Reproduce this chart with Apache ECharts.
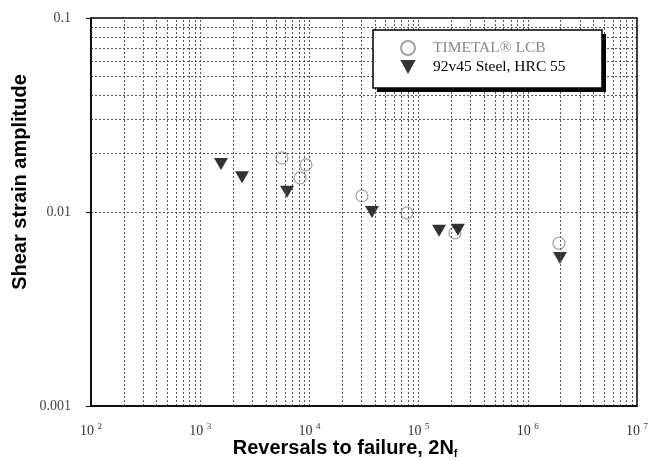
<!DOCTYPE html>
<html>
<head>
<meta charset="utf-8">
<script src="https://cdn.jsdelivr.net/npm/echarts@6/dist/echarts.min.js"></script>
<style>
  html, body { margin: 0; padding: 0; background: #fff; }
  #main { width: 650px; height: 461px; }
</style>
</head>
<body>
<div id="main"></div>
<script>
// reversals to failure (2Nf) and shear strain amplitude
var timetalX = [5610, 9310, 8200, 30300, 78300, 215000, 1930000];
var timetalY = [0.0190, 0.0175, 0.0150, 0.0121, 0.0099, 0.0078, 0.0069];
var steelX = [1550, 2415, 6240, 37400, 154000, 229000, 1970000];
var steelY = [0.0177, 0.0151, 0.0127, 0.0100, 0.0080, 0.0081, 0.0058];

var seriesNames = ['TIMETAL\u00ae LCB', '92v45 Steel, HRC 55'];
var xGridValues = [];
var yGridValues = [];
// log grid lines at 1..9 x 10^k
for (var k = 2; k < 7; k++) {
  for (var m = 1; m < 10; m++) {
    if (!(k === 2 && m === 1)) xGridValues.push(m * Math.pow(10, k));
  }
}
for (var k = -3; k < -1; k++) {
  for (var m = 1; m < 10; m++) {
    if (!(k === -3 && m === 1)) yGridValues.push(+(m * Math.pow(10, k)).toFixed(6));
  }
}

var myChart = echarts.init(document.getElementById('main'));

function pairs(xs, ys) {
  var out = [];
  for (var i = 0; i < xs.length; i++) out.push([xs[i], ys[i]]);
  return out;
}

var gridLines = [];
xGridValues.forEach(function (v) { gridLines.push({ xAxis: v }); });
yGridValues.forEach(function (v) { gridLines.push({ yAxis: v }); });

var downTriangle = 'path://M0,0 L12,0 L6,11 Z';

var option = {
  animation: false,
  backgroundColor: '#fff',
  grid: { left: 91, right: 13, top: 18, bottom: 55, outerBoundsMode: 'none', containLabel: false },
  legend: {
    orient: 'vertical',
    left: 386,
    top: 30,
    z: 20,
    padding: [10, 30, 12, 14],
    itemGap: 3,
    itemWidth: 40,
    itemHeight: 14,
    symbolKeepAspect: true,
    textStyle: { fontFamily: 'Liberation Serif', fontSize: 15.5, color: '#000' },
    data: [
      { name: seriesNames[0], textStyle: { color: '#888' } },
      { name: seriesNames[1], icon: downTriangle }
    ]
  },
  xAxis: {
    type: 'log',
    logBase: 10,
    min: 100,
    max: 10000000,
    name: 'Reversals to failure, 2N{sub|f}',
    nameLocation: 'middle',
    nameGap: 31,
    nameMoveOverlap: false,
    nameTextStyle: {
      fontFamily: 'Liberation Sans',
      fontWeight: 'bold',
      fontSize: 20,
      color: '#000',
      padding: [0, 38, 0, 0],
      rich: {
        sub: { fontFamily: 'Liberation Sans', fontWeight: 'bold', fontSize: 10, padding: [12, 0, 0, 0] }
      }
    },
    axisLine: { lineStyle: { color: '#000', width: 1.5 } },
    axisTick: { show: false },
    splitLine: { show: false },
    axisLabel: {
      margin: 16,
      formatter: function (v) {
        var e = Math.round(Math.log10(v));
        return '{b|10 }{s|' + e + '}';
      },
      rich: {
        b: { fontFamily: 'Liberation Serif', fontSize: 14, color: '#333' },
        s: { fontFamily: 'Liberation Serif', fontSize: 9, color: '#333', padding: [0, 0, 9, 0] }
      }
    }
  },
  yAxis: {
    type: 'log',
    logBase: 10,
    min: 0.001,
    max: 0.1,
    name: 'Shear strain amplitude',
    nameLocation: 'middle',
    nameGap: 61,
    nameMoveOverlap: false,
    nameTextStyle: {
      fontFamily: 'Liberation Sans', fontWeight: 'bold', fontSize: 20, color: '#000',
      padding: [0, 0, 0, 60]
    },
    axisLine: { lineStyle: { color: '#000', width: 1.5 } },
    axisTick: { show: true, inside: false, length: 5, lineStyle: { color: '#000' } },
    splitLine: { show: false },
    axisLabel: {
      margin: 20,
      fontFamily: 'Liberation Serif',
      fontSize: 14,
      color: '#444',
      formatter: function (v) {
        return String(+v.toPrecision(1));
      }
    }
  },
  graphic: [
    {
      // legend box drop shadow
      type: 'rect',
      z: 14,
      silent: true,
      shape: { x: 377, y: 34, width: 229, height: 58 },
      style: { fill: '#000' }
    },
    {
      // legend box
      type: 'rect',
      z: 15,
      silent: true,
      shape: { x: 373, y: 30, width: 229, height: 58 },
      style: { fill: '#fff', stroke: '#000', lineWidth: 1.5 }
    },
    {
      // plot frame
      type: 'rect',
      z: 10,
      silent: true,
      shape: { x: 91, y: 18, width: 546, height: 388 },
      style: { fill: 'none', stroke: '#000', lineWidth: 1.5 }
    }
  ],
  series: [
    {
      name: 'grid',
      type: 'line',
      data: [],
      silent: true,
      markLine: {
        silent: true,
        symbol: 'none',
        label: { show: false },
        animation: false,
        lineStyle: { type: [2, 2], color: '#555', width: 1 },
        data: gridLines
      }
    },
    {
      name: seriesNames[0],
      type: 'scatter',
      symbol: 'circle',
      symbolSize: 12,
      itemStyle: { color: '#fff', borderColor: '#999', borderWidth: 1.2, opacity: 0.9 },
      data: pairs(timetalX, timetalY),
      z: 3
    },
    {
      name: seriesNames[1],
      type: 'scatter',
      symbol: downTriangle,
      symbolSize: [14, 12],
      itemStyle: { color: '#000' },
      data: pairs(steelX, steelY),
      z: 4
    }
  ]
};

myChart.setOption(option);
</script>
</body>
</html>
